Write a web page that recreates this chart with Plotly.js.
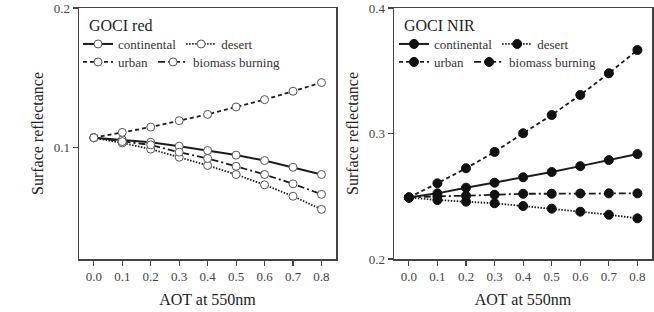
<!DOCTYPE html>
<html>
<head>
<meta charset="utf-8">
<script src="https://cdn.plot.ly/plotly-3.0.1.min.js"></script>
<style>
  html, body { margin: 0; padding: 0; background: #fff; }
  #chart { width: 654px; height: 312px; }
</style>
</head>
<body>
<div id="chart"></div>
<script>
// Aerosol optical thickness at 550 nm
const aot = [0.0, 0.1, 0.2, 0.3, 0.4, 0.5, 0.6, 0.7, 0.8];

// Surface reflectance, GOCI red band
const redContinental = [0.107, 0.1055, 0.1037, 0.1009, 0.0978, 0.0945, 0.0906, 0.0858, 0.0806];
const redDesert      = [0.107, 0.1032, 0.0988, 0.0930, 0.0871, 0.0806, 0.0732, 0.0650, 0.0556];
const redUrban       = [0.107, 0.1108, 0.1146, 0.1192, 0.1237, 0.1290, 0.1343, 0.1403, 0.1465];
const redBiomass     = [0.107, 0.1042, 0.1018, 0.0966, 0.0921, 0.0865, 0.0806, 0.0739, 0.0664];

// Surface reflectance, GOCI NIR band
const nirContinental = [0.249, 0.2523, 0.2568, 0.2608, 0.2651, 0.2693, 0.2740, 0.2788, 0.2836];
const nirDesert      = [0.249, 0.2470, 0.2457, 0.2444, 0.2422, 0.2401, 0.2377, 0.2353, 0.2324];
const nirUrban       = [0.249, 0.2603, 0.2723, 0.2853, 0.3002, 0.3147, 0.3307, 0.3480, 0.3665];
const nirBiomass     = [0.249, 0.2500, 0.2504, 0.2512, 0.2520, 0.2520, 0.2522, 0.2523, 0.2523];

const aerosolNames = ['continental', 'desert', 'urban', 'biomass burning'];
// solid, dotted, dashed, dash-dot
const dashStyles   = ['solid', '1.5px,1.5px', '4px,3px', '7px,3px,2px,3px'];
const xTicks = aot;
const redYTicks = [0.1, 0.2];
const nirYTicks = [0.2, 0.3, 0.4];

const FONT = 'Liberation Serif';
const INK = '#1c1c1c';
const AXIS = '#444';

const W = 654, H = 312;
const px = v => v / W;
const py = v => 1 - v / H;

function series(y, i, xa, ya, legendId, filled) {
  return {
    x: aot, y: y, xaxis: xa, yaxis: ya,
    type: 'scatter', mode: 'lines+markers',
    name: aerosolNames[i],
    legend: legendId,
    line: { color: INK, width: i === 0 ? 2 : 1.8, dash: dashStyles[i] },
    marker: filled
      ? { symbol: 'circle', size: 9, color: '#111', line: { color: '#111', width: 1 } }
      : { symbol: 'circle', size: 8, color: '#fff', line: { color: '#555', width: 1 } }
  };
}

const traces = [
  series(redContinental, 0, 'x', 'y', 'legend', false),
  series(redDesert,      1, 'x', 'y', 'legend', false),
  series(redUrban,       2, 'x', 'y', 'legend2', false),
  series(redBiomass,     3, 'x', 'y', 'legend2', false),
  series(nirContinental, 0, 'x2', 'y2', 'legend3', true),
  series(nirDesert,      1, 'x2', 'y2', 'legend3', true),
  series(nirUrban,       2, 'x2', 'y2', 'legend4', true),
  series(nirBiomass,     3, 'x2', 'y2', 'legend4', true)
];

const tickFont = { family: FONT, size: 13, color: '#444' };
const titleFont = { family: FONT, size: 16, color: '#222' };

const xDomL = [px(79), px(336)];
const xDomR = [px(394), px(652)];
const yDom = [py(259), py(8)];
const xRange = [-0.052, 0.851];

function xAxis(domain, anchor) {
  return {
    domain: domain, anchor: anchor, range: xRange,
    tickvals: xTicks, tickformat: '.1f',
    ticks: 'outside', ticklen: 5, tickwidth: 1.2, tickcolor: AXIS,
    showline: true, linecolor: AXIS, linewidth: 1.5, mirror: true,
    showgrid: false, zeroline: false,
    tickfont: tickFont,
    title: { text: 'AOT at 550nm', font: titleFont, standoff: 10 }
  };
}
function yAxis(domain, anchor, range, ticks) {
  return {
    domain: domain, anchor: anchor, range: range,
    tickvals: ticks, tickformat: '.1f',
    ticks: 'outside', ticklen: 5, tickwidth: 1.2, tickcolor: AXIS,
    showline: true, linecolor: AXIS, linewidth: 1.5, mirror: true,
    showgrid: false, zeroline: false,
    tickfont: tickFont,
    title: { text: 'Surface reflectance', font: titleFont, standoff: 6 }
  };
}
// Inward ticks along the top and right frame edges
function topTicks(over, anchor) {
  return {
    overlaying: over, anchor: anchor, side: 'top', range: xRange,
    tickvals: xTicks, ticks: 'inside', ticklen: 6, tickwidth: 1.2, tickcolor: AXIS,
    showticklabels: false, showline: false, showgrid: false, zeroline: false
  };
}
function rightTicks(over, anchor, range, ticks) {
  return {
    overlaying: over, anchor: anchor, side: 'right', range: range,
    tickvals: ticks, ticks: 'inside', ticklen: 5, tickwidth: 1.2, tickcolor: AXIS,
    showticklabels: false, showline: false, showgrid: false, zeroline: false
  };
}

function legendAt(x, y) {
  return {
    x: px(x), y: py(y), xanchor: 'left', yanchor: 'middle',
    orientation: 'h', bgcolor: 'rgba(0,0,0,0)', borderwidth: 0,
    font: { family: FONT, size: 13, color: '#333' },
    itemclick: false, itemdoubleclick: false
  };
}

const layout = {
  width: W, height: H,
  margin: { l: 0, r: 0, t: 0, b: 0 },
  paper_bgcolor: '#fff', plot_bgcolor: '#fff',
  showlegend: true,
  xaxis: xAxis(xDomL, 'y'),
  yaxis: yAxis(yDom, 'x', [0.02, 0.2], redYTicks),
  xaxis2: xAxis(xDomR, 'y2'),
  yaxis2: yAxis(yDom, 'x2', [0.2, 0.4], nirYTicks),
  xaxis3: topTicks('x', 'y'),
  yaxis3: rightTicks('y', 'x', [0.02, 0.2], redYTicks),
  xaxis4: topTicks('x2', 'y2'),
  yaxis4: rightTicks('y2', 'x2', [0.2, 0.4], nirYTicks),
  legend: legendAt(78, 44),
  legend2: legendAt(78, 62),
  legend3: legendAt(394, 44),
  legend4: legendAt(394, 62),
  annotations: [
    { text: 'GOCI red', xref: 'paper', yref: 'paper', x: px(87), y: py(25),
      xanchor: 'left', yanchor: 'middle', showarrow: false,
      font: { family: FONT, size: 16, color: '#222' } },
    { text: 'GOCI NIR', xref: 'paper', yref: 'paper', x: px(402), y: py(25),
      xanchor: 'left', yanchor: 'middle', showarrow: false,
      font: { family: FONT, size: 16, color: '#222' } }
  ]
};

Plotly.newPlot('chart', traces, layout, { displayModeBar: false, staticPlot: true });
</script>
</body>
</html>
